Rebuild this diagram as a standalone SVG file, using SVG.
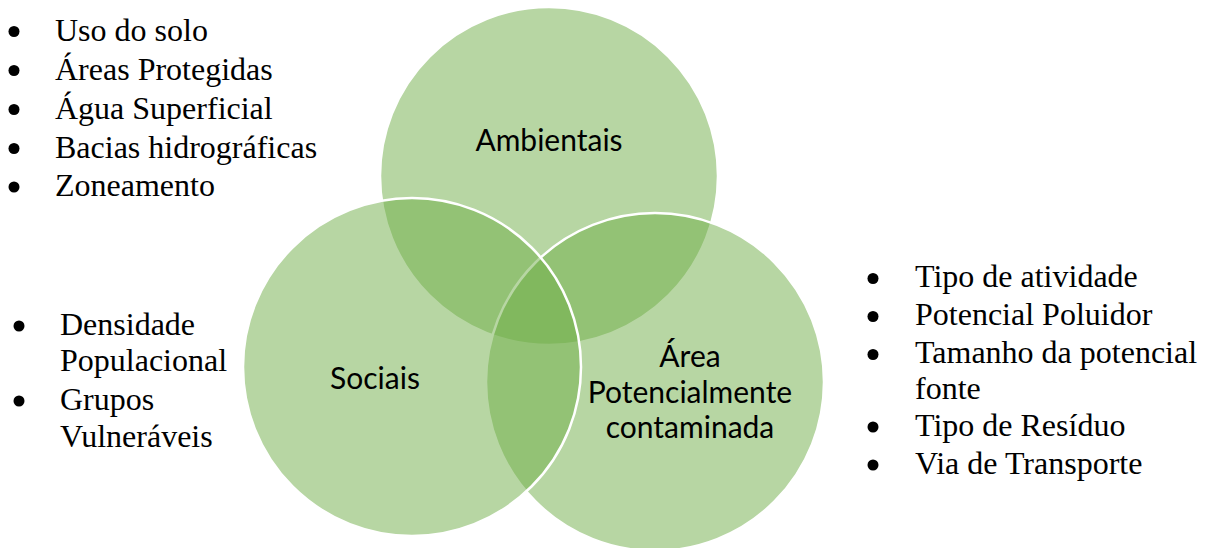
<svg xmlns="http://www.w3.org/2000/svg" width="1212" height="548" viewBox="0 0 1212 548">
<style>
.c{fill:#70ad47;fill-opacity:0.5;stroke:#ffffff;stroke-width:2.5}
.lbl{font-family:Lato,"Open Sans",sans-serif;font-size:30px;fill:#000;text-anchor:middle}
.li{font-family:'Liberation Serif','Times New Roman',serif;font-size:32px;fill:#000}
.b{fill:#000}
</style>
<rect width="1212" height="548" fill="#ffffff"/>
<g id="ambientais">
<circle class="c" cx="549" cy="176" r="169"/>
<text class="lbl" x="549" y="151">Ambientais</text>
</g>
<g id="area">
<circle class="c" cx="655" cy="382" r="169"/>
<text class="lbl" x="690" y="367">Área</text>
<text class="lbl" x="690" y="403">Potencialmente</text>
<text class="lbl" x="690" y="438">contaminada</text>
</g>
<g id="sociais">
<circle class="c" cx="412" cy="367" r="169"/>
<text class="lbl" x="375" y="389">Sociais</text>
</g>
<g id="list-ambientais">
<circle class="b" cx="14" cy="31.5" r="5.5"/>
<circle class="b" cx="14" cy="70.5" r="5.5"/>
<circle class="b" cx="14" cy="109.5" r="5.5"/>
<circle class="b" cx="14" cy="148.5" r="5.5"/>
<circle class="b" cx="14" cy="187" r="5.5"/>
<text class="li" x="55" y="41">Uso do solo</text>
<text class="li" x="55" y="80">Áreas Protegidas</text>
<text class="li" x="55" y="119">Água Superficial</text>
<text class="li" x="55" y="158">Bacias hidrográficas</text>
<text class="li" x="55" y="196">Zoneamento</text>
</g>
<g id="list-sociais">
<circle class="b" cx="19" cy="326" r="5.5"/>
<circle class="b" cx="19" cy="401" r="5.5"/>
<text class="li" x="60" y="335">Densidade</text>
<text class="li" x="60" y="371">Populacional</text>
<text class="li" x="60" y="410">Grupos</text>
<text class="li" x="60" y="447">Vulneráveis</text>
</g>
<g id="list-area">
<circle class="b" cx="873" cy="278.5" r="5.5"/>
<circle class="b" cx="873" cy="316.5" r="5.5"/>
<circle class="b" cx="873" cy="354.5" r="5.5"/>
<circle class="b" cx="873" cy="427" r="5.5"/>
<circle class="b" cx="873" cy="465" r="5.5"/>
<text class="li" x="915" y="287">Tipo de atividade</text>
<text class="li" x="915" y="325">Potencial Poluidor</text>
<text class="li" x="915" y="363">Tamanho da potencial</text>
<text class="li" x="915" y="399">fonte</text>
<text class="li" x="915" y="436">Tipo de Resíduo</text>
<text class="li" x="915" y="474">Via de Transporte</text>
</g>
</svg>
